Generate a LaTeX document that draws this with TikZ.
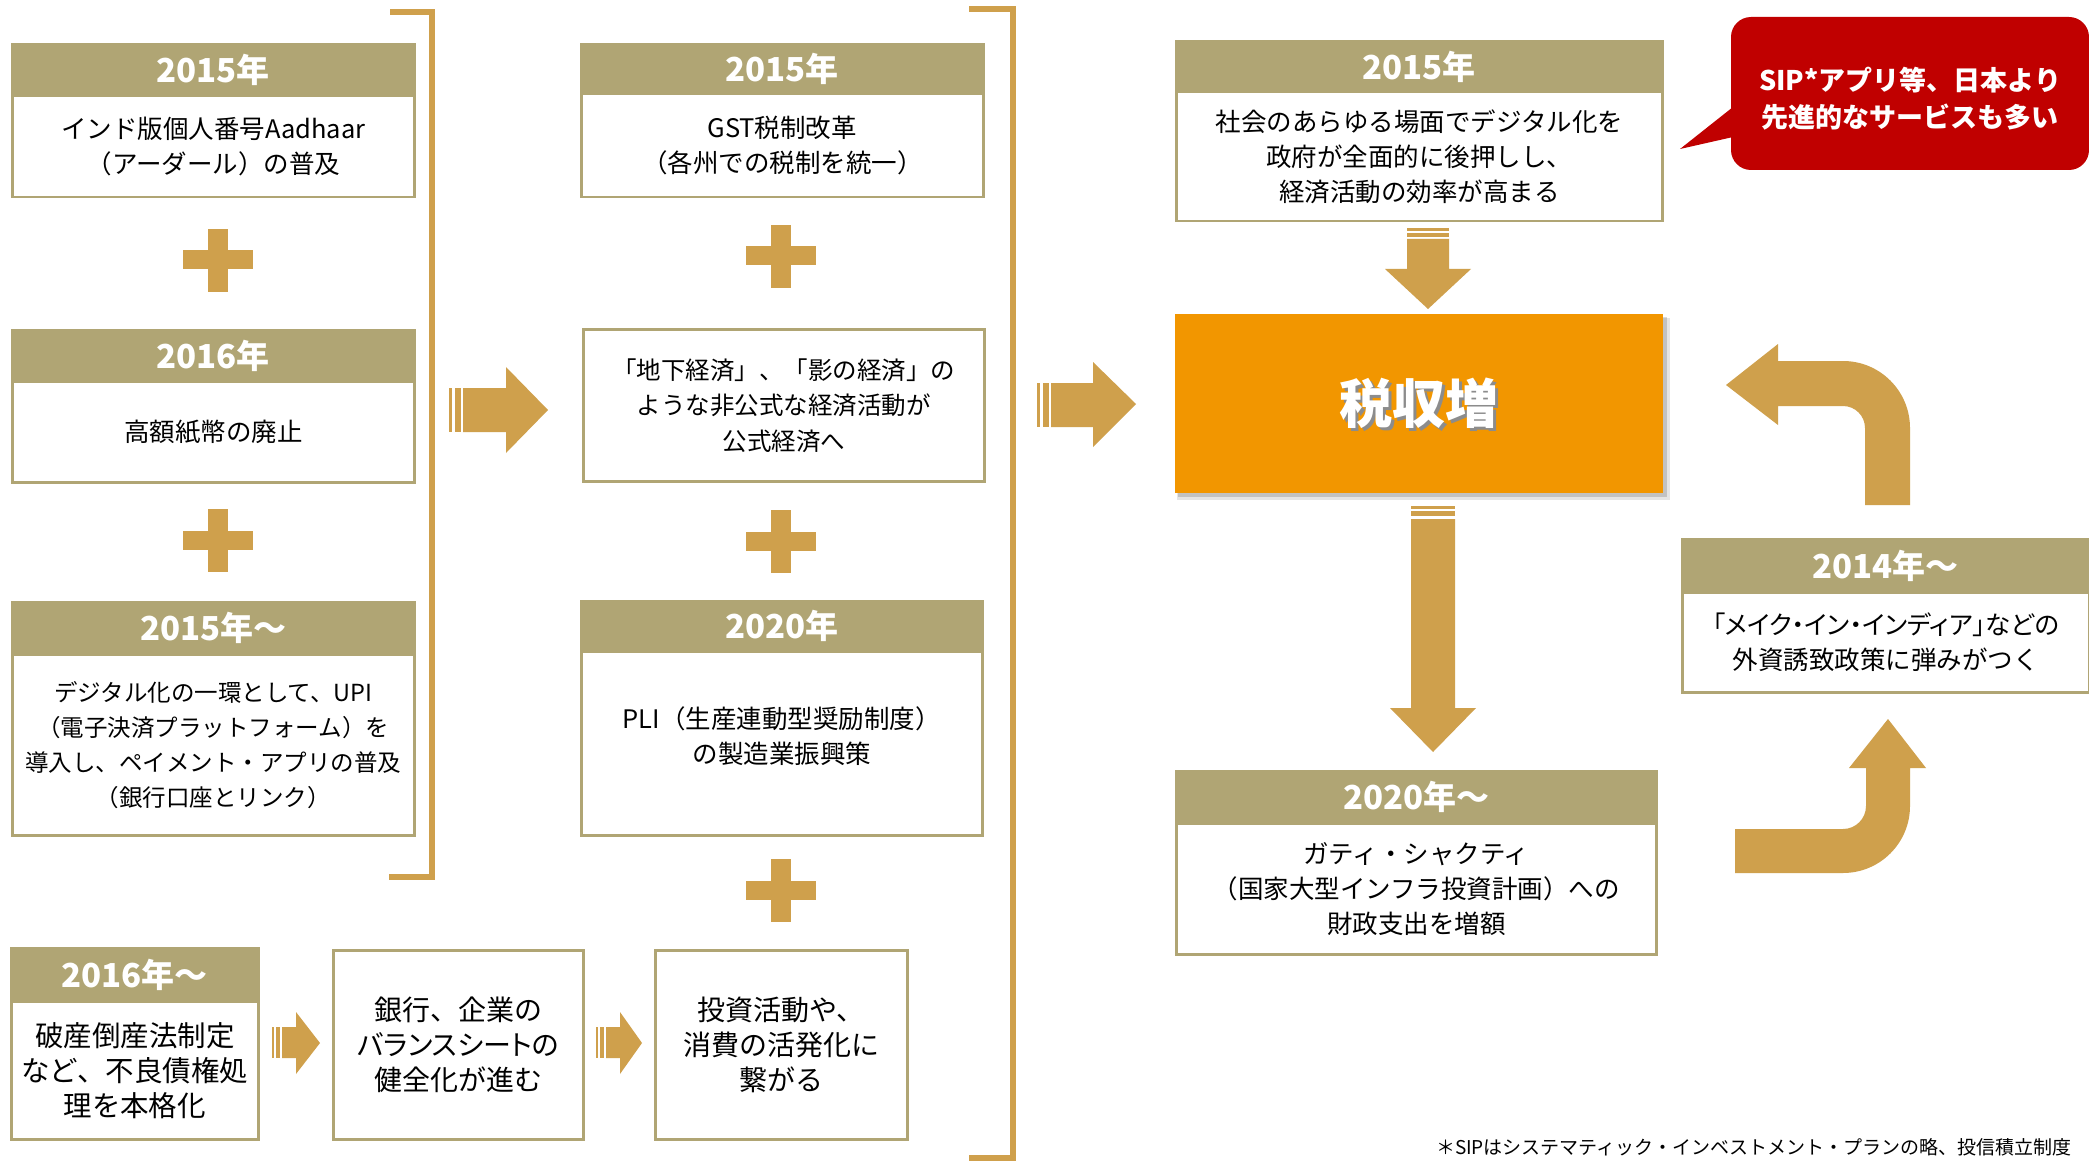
\documentclass[tikz,border=0pt]{standalone}
\usepackage{fontspec}
\setmainfont{Noto Sans CJK JP}
\newfontfamily\pfont{Noto Sans CJK JP}[RawFeature=+palt]
\definecolor{olive}{HTML}{B0A574}
\definecolor{gold}{HTML}{CFA04C}
\definecolor{orng}{HTML}{F29600}
\definecolor{callred}{HTML}{C00000}
\newcommand\tbox[9]{%
  \node[hdr,minimum width=#4pt,minimum height=#5pt] (#1h) at (#2,#3) {#7};
  \node[bodybox,minimum width=#4pt,minimum height=#6pt,#9] (#1b) at (#2,#3+#5) {#8};}
\newcommand\plussign[2]{%
  \fill[gold] (#1-10,#2-31) rectangle (#1+10,#2+32);
  \fill[gold] (#1-35,#2-9.5) rectangle (#1+35,#2+9.5);}
\begin{document}
\begin{tikzpicture}[x=1pt,y=-1pt,
  hdr/.style={fill=olive,draw=olive,line width=2.5pt,text=white,inner sep=0pt,anchor=north west,font=\fontsize{33}{38}\selectfont\bfseries},
  bodybox/.style={fill=white,draw=olive,line width=2.5pt,align=center,inner sep=0pt,anchor=north west,font=\fontsize{25.5}{35}\selectfont},
  plainbox/.style={fill=white,draw=olive,line width=2.5pt,align=center,inner sep=0pt,anchor=north west,font=\fontsize{25.5}{35}\selectfont},
  bracket/.style={draw=gold,line width=6pt}]
\useasboundingbox[fill=white] (0,0) rectangle (2089,1161);

% ---------- column 1 ----------
\tbox{a1}{11}{43}{402}{52}{101}{2015年}{インド版個人番号Aadhaar\\（アーダール）の普及}{}
\plussign{218}{260}
\tbox{a2}{11}{329}{402}{51}{101}{2016年}{高額紙幣の廃止}{}
\plussign{218}{540}
\tbox{a3}{11}{601}{402}{52}{181}{2015年〜}{デジタル化の一環として、UPI\\（電子決済プラットフォーム）を\\導入し、ペイメント・アプリの普及\\（銀行口座とリンク）}{font=\fontsize{23.5}{35}\selectfont}
\draw[bracket] (390,12) -- (432,12) -- (432,877) -- (389,877);

% arrow 1
\fill[gold] (449,388) rectangle (452,432);
\fill[gold] (455,388) rectangle (461,432);
\fill[gold] (463,388) -- (506,388) -- (506,367) -- (548,410) -- (506,453) -- (506,432) -- (463,432) -- cycle;

% ---------- column 2 ----------
\tbox{b1}{580}{43}{402}{50}{103}{2015年}{GST税制改革\\（各州での税制を統一）}{}
\plussign{781}{256}
\node[plainbox,minimum width=401pt,minimum height=152pt,font=\fontsize{24.5}{35.5}\selectfont] (b2) at (582,328) {「地下経済」、「影の経済」の\\ような非公式な経済活動が\\公式経済へ};
\plussign{781}{541}
\tbox{b3}{580}{600}{401}{50}{184}{2020年}{PLI（生産連動型奨励制度）\\の製造業振興策\\[-19pt]}{}
\plussign{781}{890}

% ---------- bottom row ----------
\tbox{c1}{10}{947}{247}{53}{138}{2016年〜}{破産倒産法制定\\など、不良債権処\\理を本格化}{font=\fontsize{28.5}{35}\selectfont}
\node[plainbox,minimum width=250pt,minimum height=189pt,font=\fontsize{28}{35}\selectfont] (c2) at (332,949) {銀行、企業の\\{\pfont バランスシートの}\\健全化が進む};
\node[plainbox,minimum width=252pt,minimum height=189pt,font=\fontsize{28}{35}\selectfont] (c3) at (654,949) {投資活動や、\\消費の活発化に\\繋がる};
% small arrows
\fill[gold] (272,1027) rectangle (274,1058);
\fill[gold] (276,1027) rectangle (280,1058);
\fill[gold] (282,1027) -- (296,1027) -- (296,1012) -- (320,1043) -- (296,1074) -- (296,1058) -- (282,1058) -- cycle;
\fill[gold] (596,1027) rectangle (598,1058);
\fill[gold] (600,1027) rectangle (604,1058);
\fill[gold] (606,1027) -- (620,1027) -- (620,1012) -- (642,1043) -- (620,1074) -- (620,1058) -- (606,1058) -- cycle;

\draw[bracket] (969,9) -- (1013,9) -- (1013,1158) -- (969,1158);

% arrow 2
\fill[gold] (1037,383) rectangle (1040,427);
\fill[gold] (1043,383) rectangle (1049,427);
\fill[gold] (1051,383) -- (1093,383) -- (1093,362) -- (1136,404) -- (1093,447) -- (1093,427) -- (1051,427) -- cycle;

% ---------- column 3 ----------
\tbox{d1}{1175}{40}{486}{51}{129}{2015年}{社会のあらゆる場面でデジタル化を\\政府が全面的に後押しし、\\経済活動の効率が高まる}{}
% down arrow 1
\fill[gold] (1407,228) rectangle (1449,231);
\fill[gold] (1407,233) rectangle (1449,237);
\fill[gold] (1407,239) -- (1449,239) -- (1449,269) -- (1471,269) -- (1428,309) -- (1385,269) -- (1407,269) -- cycle;
% tax box
\fill[black,opacity=0.10] (1177,318) rectangle (1670,500);
\fill[black,opacity=0.15] (1178,317) rectangle (1667,497);
\node[fill=orng,minimum width=488pt,minimum height=179pt,inner sep=0pt,anchor=north west] (tax) at (1175,314) {};
\node[text=black!45,font=\fontsize{53}{60}\selectfont\bfseries] (taxs) at ([xshift=2.5pt,yshift=-2.5pt]tax.center) {税収増};
\node[text=white,font=\fontsize{53}{60}\selectfont\bfseries] (taxt) at (tax.center) {税収増};
% down arrow 2
\fill[gold] (1411,506) rectangle (1455,509);
\fill[gold] (1411,511) rectangle (1455,516);
\fill[gold] (1411,519) -- (1455,519) -- (1455,708) -- (1476,708) -- (1433,752) -- (1390,708) -- (1411,708) -- cycle;
\tbox{d3}{1175}{770}{480}{52}{131}{2020年〜}{ガティ・シャクティ\\（国家大型インフラ投資計画）への\\財政支出を増額}{}

% ---------- column 4 ----------
\fill[callred,rounded corners=20pt] (1731,17) rectangle (2089,170);
\fill[callred] (1733,107) -- (1680,149) -- (1733,137) -- cycle;
\node[text=white,align=center,font=\fontsize{27}{37}\selectfont\bfseries] (call) at (1910,99) {SIP*アプリ等、日本より\\先進的なサービスも多い};

\fill[gold] (1726,385) -- (1778,344) -- (1778,361) -- (1843,361)
  arc[start angle=90,end angle=0,radius=67pt] -- (1910,505) -- (1865,505) -- (1865,428)
  arc[start angle=0,end angle=90,radius=22pt] -- (1778,406) -- (1778,425) -- cycle;

\tbox{e}{1681}{538}{407}{53}{100}{2014年〜}{{\pfont 「メイク・イン・インディア」などの}\\外資誘致政策に弾みがつく}{}

\fill[gold] (1735,829) -- (1843,829)
  arc[start angle=270,end angle=360,radius=23pt] -- (1866,768) -- (1849,768) -- (1888,719) -- (1926,768) -- (1910,768) -- (1910,806)
  arc[start angle=0,end angle=-90,radius=67pt] -- (1735,873) -- cycle;

\node[anchor=east,font=\fontsize{19}{22}\selectfont,inner sep=0pt] (fn) at (2072,1147) {＊SIPはシステマティック・インベストメント・プランの略、投信積立制度};
\end{tikzpicture}
\end{document}
